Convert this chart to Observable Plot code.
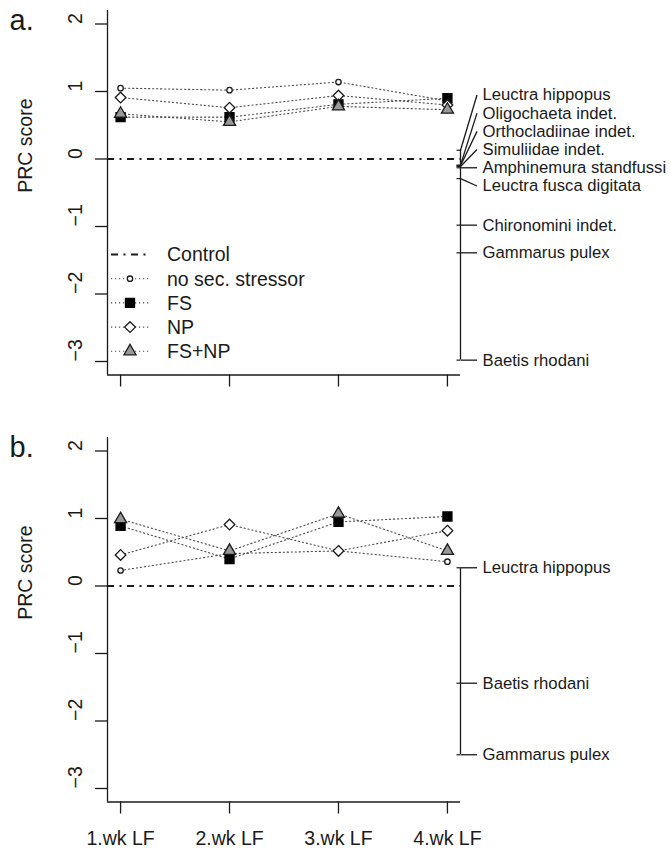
<!DOCTYPE html>
<html><head><meta charset="utf-8">
<script src="https://cdn.jsdelivr.net/npm/d3@7"></script>
<script src="https://cdn.jsdelivr.net/npm/@observablehq/plot@0.6"></script>
<style>
body{margin:0;background:#fff;}
#chart svg{display:block;}
</style></head><body><div id="chart"></div>
<script>
// ---- data ----
const weeks = [1, 2, 3, 4];
const weekLabels = ["1.wk LF", "2.wk LF", "3.wk LF", "4.wk LF"];
const seriesNames = ["no sec. stressor", "FS", "NP", "FS+NP"];
const yTicks = [-3, -2, -1, 0, 1, 2];

// panel a
const aNoSec = [1.05, 1.02, 1.14, 0.86];
const aFS    = [0.62, 0.62, 0.81, 0.90];
const aNP    = [0.91, 0.76, 0.94, 0.80];
const aFSNP  = [0.67, 0.55, 0.78, 0.73];
const aSpecies = ["Leuctra hippopus", "Oligochaeta indet.", "Orthocladiinae indet.", "Simuliidae indet.",
  "Amphinemura standfussi", "Leuctra fusca digitata", "Chironomini indet.", "Gammarus pulex", "Baetis rhodani"];
const aScores = [0.13, -0.09, -0.10, -0.11, -0.13, -0.29, -0.98, -1.39, -2.98];

// panel b
const bNoSec = [0.23, 0.48, 0.52, 0.36];
const bFS    = [0.89, 0.40, 0.95, 1.03];
const bNP    = [0.46, 0.91, 0.52, 0.82];
const bFSNP  = [0.99, 0.52, 1.07, 0.52];
const bSpecies = ["Leuctra hippopus", "Baetis rhodani", "Gammarus pulex"];
const bScores = [0.27, -1.44, -2.50];

// ---- styling ----
const ink = "#1a1a1a";
const font = "'Liberation Sans', Arial, Helvetica, sans-serif";
const W = 670, H = 425;
const mLeft = 107, mRight = 210;
const xDomain = [0.88, 4.12];
const yDomain = [-3.2, 2.2];
const fmt = d => d < 0 ? "\u2212" + Math.abs(d) : String(d);
const dotted = "1.2,2.8";
const dashdot = "7,5.5,2,5.5";
const lineColor = "#4a4a4a";
const sym = [
  {symbol: "circle", r: 2.7, fill: "white", stroke: ink},
  {symbol: "square", r: 5.1, fill: "black", stroke: "black"},
  {symbol: "diamond2", r: 4.8, fill: "white", stroke: ink},
  {symbol: "triangle", r: 4.5, fill: "#999", stroke: ink}
];
const d3sym = {circle: d3.symbolCircle, square: d3.symbolSquare, diamond2: d3.symbolDiamond2, triangle: d3.symbolTriangle};

// vegan-like linestack: stack labels out from the middle one
function linestack(scores, ht) {
  const idx = d3.range(scores.length).sort((i, j) => scores[i] - scores[j]);
  const x = idx.map(i => scores[i]);
  const n = x.length;
  const pos = new Array(n);
  const mid = Math.floor((n + 1) / 2) - 1;
  pos[mid] = x[mid];
  for (let i = mid + 1; i < n; i++) pos[i] = Math.max(x[i], pos[i - 1] + ht);
  for (let i = mid - 1; i >= 0; i--) pos[i] = Math.min(x[i], pos[i + 1] - ht);
  const out = new Array(n);
  idx.forEach((orig, k) => out[orig] = pos[k]);
  return out;
}

function panel({letter, series, species, scores, marginTop, showX}) {
  const plotH = (yDomain[1] - yDomain[0]) * 67.5;
  const marginBottom = H - marginTop - plotH;
  const plotW = W - mLeft - mRight;
  const pxX = plotW / (xDomain[1] - xDomain[0]);
  const pxY = plotH / (yDomain[1] - yDomain[0]);
  const labelPos = linestack(scores, 18.2 / pxY);
  const sp = species.map((name, i) => ({name, score: scores[i], label: labelPos[i]}));
  const xe = xDomain[1];
  const rows = [];
  series.forEach((vals, s) => vals.forEach((v, i) => rows.push({series: seriesNames[s], s, week: weeks[i], value: v})));

  const marks = [
    Plot.ruleX([xDomain[0]], {stroke: ink, strokeWidth: 1.3}),
    Plot.ruleY([yDomain[0]], {stroke: ink, strokeWidth: 1.3}),
    Plot.axisY({ticks: yTicks, tickSize: 12, tickFormat: () => "", stroke: ink, strokeWidth: 1.3}),
    Plot.text(yTicks, {y: d => d, frameAnchor: "left", dx: -31.5, rotate: -90, text: d => fmt(d), fontSize: 19.5, fill: ink}),
    Plot.axisX({ticks: weeks, tickSize: 12, tickPadding: 17, strokeWidth: 1.3, stroke: ink,
      tickFormat: showX ? (d => weekLabels[d - 1]) : (() => ""), fontSize: 19.5, fill: ink}),
    Plot.text(["PRC score"], {frameAnchor: "left", dx: -81.5, rotate: -90, fontSize: 19.5, fill: ink}),
    Plot.text([letter], {frameAnchor: "top-left", dx: -98, dy: 19, lineAnchor: "bottom", textAnchor: "start", fontSize: 29, fill: ink}),
    Plot.ruleY([0], {stroke: ink, strokeWidth: 1.8, strokeDasharray: dashdot}),
  ];
  series.forEach((vals, s) => {
    const d = rows.filter(r => r.s === s);
    marks.push(Plot.line(d, {x: "week", y: "value", stroke: lineColor, strokeWidth: 1.1, strokeDasharray: dotted}));
  });
  series.forEach((vals, s) => {
    const d = rows.filter(r => r.s === s);
    marks.push(Plot.dot(d, {x: "week", y: "value", symbol: sym[s].symbol, r: sym[s].r, fill: sym[s].fill, stroke: sym[s].stroke, strokeWidth: 1.3}));
  });
  marks.push(
    Plot.ruleX([xe], {y1: d3.min(scores), y2: d3.max(scores), stroke: ink, strokeWidth: 1.3}),
    Plot.ruleY(sp, {y: "score", x1: xe - 3.5 / pxX, x2: xe, stroke: ink, strokeWidth: 1.2}),
    Plot.link(sp, {x1: xe, y1: "score", x2: xe + 16.5 / pxX, y2: "label", stroke: ink, strokeWidth: 1.3}),
    Plot.text(sp, {x: xe + 22 / pxX, y: "label", text: "name", textAnchor: "start", fontSize: 16.7, fill: ink})
  );

  return Plot.plot({
    width: W, height: H,
    marginLeft: mLeft, marginRight: mRight, marginTop, marginBottom,
    style: {fontFamily: font, color: ink, background: "white", overflow: "visible"},
    x: {domain: xDomain, label: null},
    y: {domain: yDomain, label: null},
    marks
  });
}

const plotA = panel({letter: "a.", series: [aNoSec, aFS, aNP, aFSNP], species: aSpecies, scores: aScores, marginTop: 10, showX: false});
const plotB = panel({letter: "b.", series: [bNoSec, bFS, bNP, bFSNP], species: bSpecies, scores: bScores, marginTop: 12, showX: true});

// legend (panel a)
const legendItems = [{label: "Control", dash: dashdot, sym: null}].concat(seriesNames.map((n, i) => ({label: n, dash: dotted, sym: sym[i]})));
const g = d3.select(plotA).append("g").attr("font-family", font).attr("font-size", 19.5)
  .attr("fill", ink).attr("text-anchor", "start");
legendItems.forEach((it, i) => {
  const y = 254.5 + i * 24.2;
  g.append("line").attr("x1", 111).attr("x2", 150).attr("y1", y).attr("y2", y)
    .attr("stroke", it.sym ? lineColor : ink).attr("stroke-width", it.sym ? 1.1 : 1.8).attr("stroke-dasharray", it.dash);
  if (it.sym) {
    const size = Math.PI * it.sym.r * it.sym.r;
    g.append("path").attr("transform", `translate(130,${y})`)
      .attr("d", d3.symbol(d3sym[it.sym.symbol], size)())
      .attr("fill", it.sym.fill).attr("stroke", it.sym.stroke).attr("stroke-width", 1.3);
  }
  g.append("text").attr("x", 167).attr("y", y).attr("dy", "0.35em").attr("text-anchor", "start").text(it.label);
});

document.getElementById("chart").append(plotA, plotB);
</script></body></html>
